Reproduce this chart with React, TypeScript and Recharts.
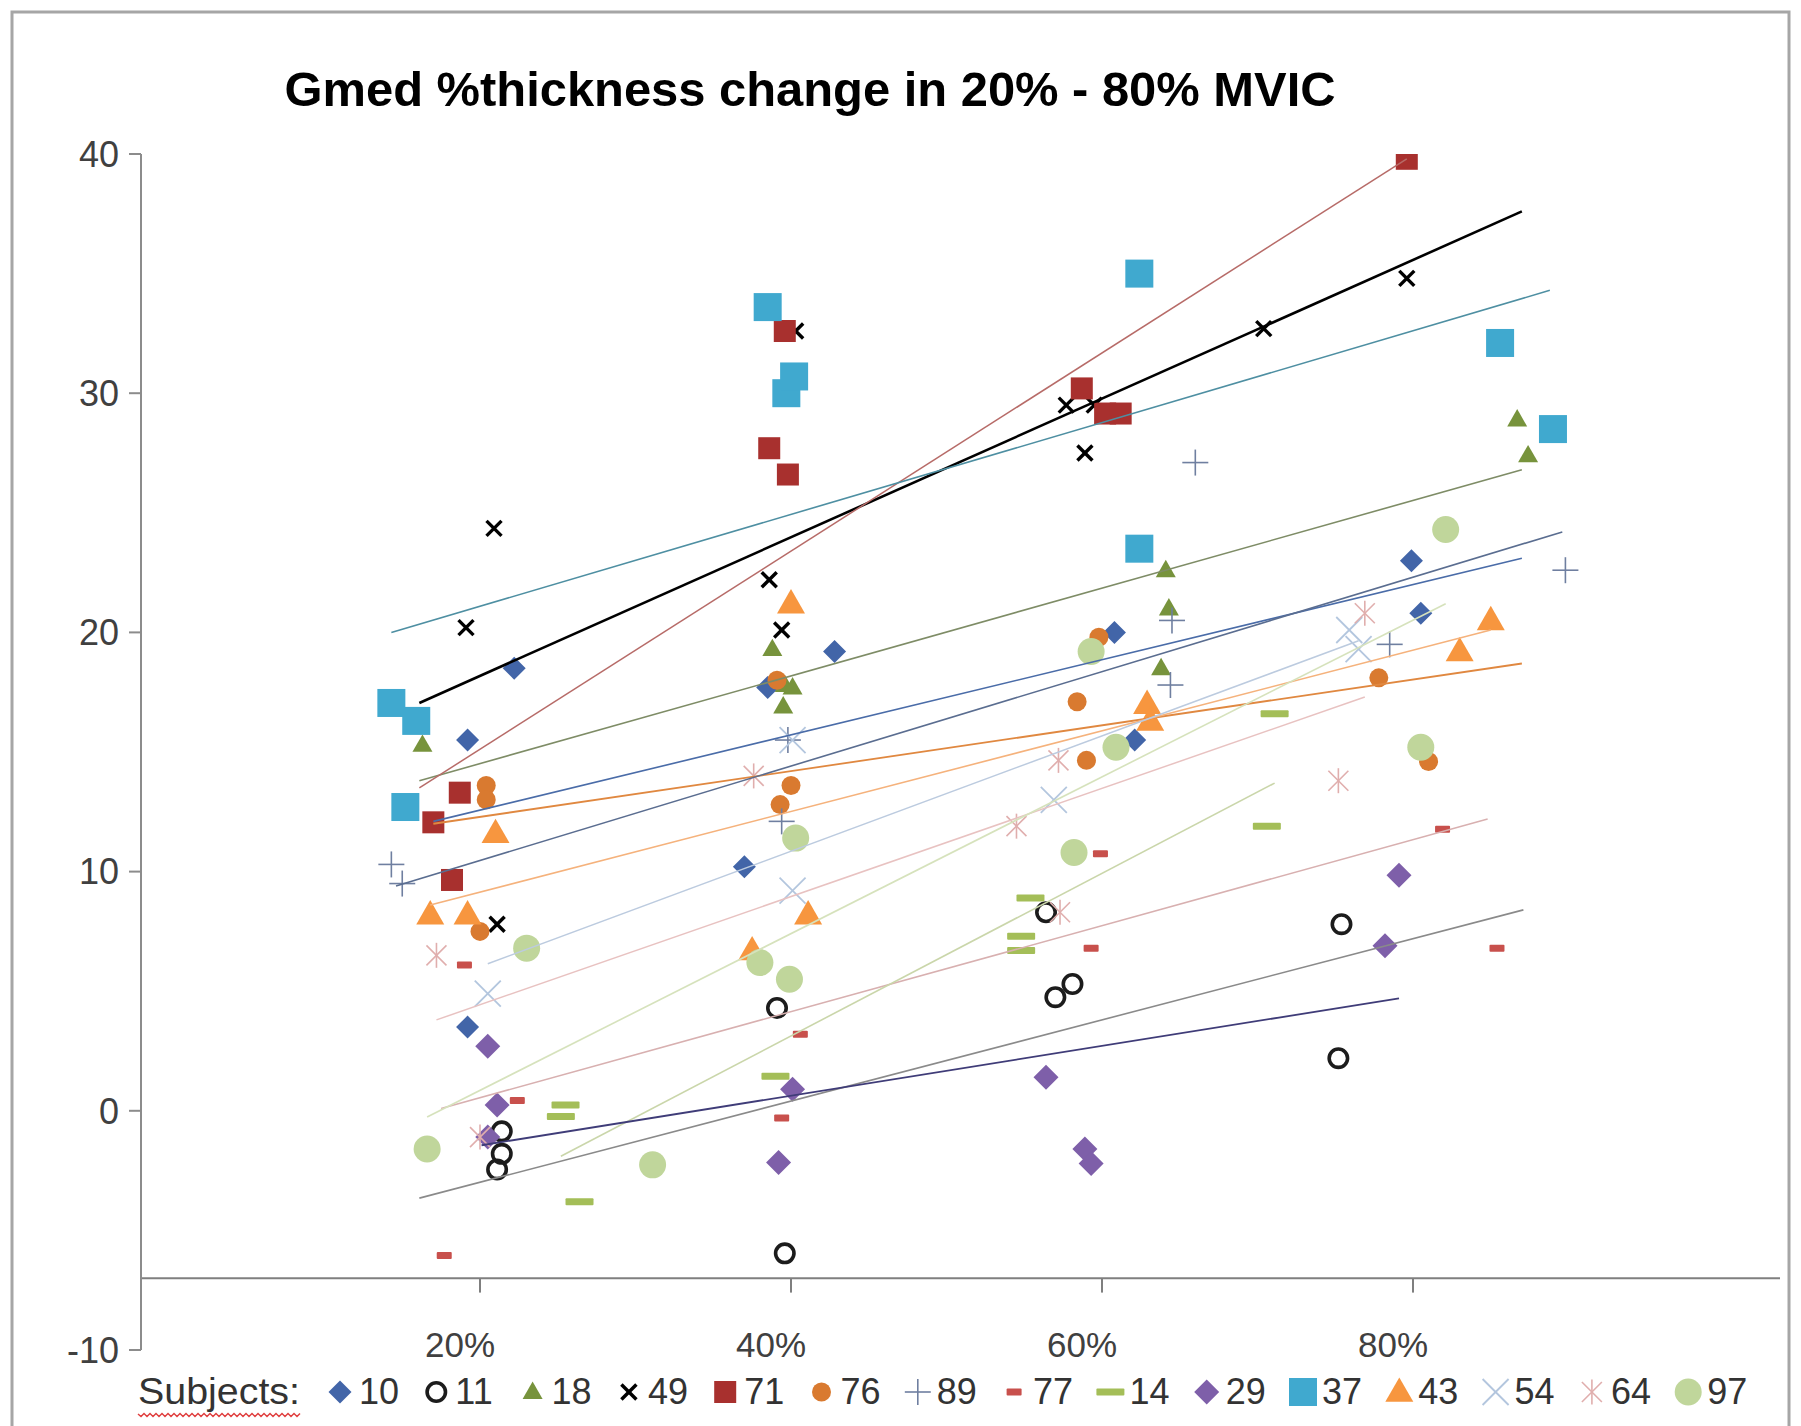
import { ComposedChart, ReferenceLine, Scatter, XAxis, YAxis } from "recharts";

type Pt = [number, number];

// subject ids, in legend order
const subjects = ["10", "11", "18", "49", "71", "76", "89", "77", "14", "29", "37", "43", "54", "64", "97"];

// measured points: [% MVIC, % thickness change]
const pts10: Pt[] = [[19.2, 15.5], [22.2, 18.5], [19.2, 3.5], [37.0, 10.2], [38.5, 17.7], [42.8, 19.2], [60.8, 20.0], [62.1, 15.5], [79.9, 23.0], [80.5, 20.8]];
const pts11: Pt[] = [[21.4, -0.86], [21.4, -1.8], [21.1, -2.45], [39.1, 4.3], [39.6, -5.96], [56.4, 8.3], [57.0, 4.75], [58.1, 5.3], [75.4, 7.8], [75.2, 2.2]];
const pts18: Pt[] = [[16.3, 15.3], [38.8, 19.3], [39.6, 17.8], [39.5, 16.9], [40.1, 17.7], [64.1, 22.6], [64.3, 21.0], [63.8, 18.5], [86.7, 28.9], [87.4, 27.4]];
const pts49: Pt[] = [[20.9, 24.35], [19.1, 20.2], [21.1, 7.8], [38.6, 22.2], [39.4, 20.1], [40.3, 32.6], [57.7, 29.5], [59.5, 29.5], [58.9, 27.5], [70.4, 32.7], [79.6, 34.8]];
const pts71: Pt[] = [[17.0, 12.06], [18.7, 13.3], [18.2, 9.65], [38.6, 27.7], [39.8, 26.6], [39.6, 32.6], [58.7, 30.2], [60.2, 29.15], [61.2, 29.15], [79.6, 39.8]];
const pts76: Pt[] = [[20.4, 13.6], [20.4, 13.0], [20.0, 7.5], [39.1, 18.0], [39.3, 12.8], [40.0, 13.6], [58.4, 17.1], [59.8, 19.8], [59.0, 14.65], [77.8, 18.1], [81.0, 14.6]];
const pts89: Pt[] = [[14.3, 10.3], [15.0, 9.5], [39.4, 12.1], [39.8, 15.5], [66.0, 27.1], [64.5, 20.5], [64.4, 17.8], [78.5, 19.5], [89.8, 22.6]];
const pts77: Pt[] = [[17.7, -6.05], [19.0, 6.1], [22.4, 0.43], [39.4, -0.3], [40.6, 3.2], [59.9, 10.75], [59.3, 6.8], [81.9, 11.77], [85.4, 6.8]];
const pts14: Pt[] = [[25.2, -0.24], [25.5, 0.24], [26.4, -3.8], [39.0, 1.44], [55.4, 8.9], [54.8, 7.3], [54.8, 6.7], [70.6, 11.9], [71.1, 16.6]];
const pts29: Pt[] = [[20.5, 2.7], [21.1, 0.24], [20.5, -1.1], [39.2, -2.16], [40.1, 0.9], [56.4, 1.4], [58.9, -1.6], [59.3, -2.2], [78.2, 6.9], [79.1, 9.85]];
const pts37: Pt[] = [[14.3, 17.05], [15.9, 16.3], [15.2, 12.7], [38.5, 33.6], [39.7, 30.0], [40.2, 30.7], [62.4, 35.0], [62.4, 23.5], [85.6, 32.1], [89.0, 28.5]];
const pts43: Pt[] = [[16.8, 8.2], [19.2, 8.2], [21.0, 11.6], [37.5, 6.7], [41.1, 8.2], [40.0, 21.2], [62.9, 17.0], [63.1, 16.3], [83.0, 19.2], [85.0, 20.5]];
const pts54: Pt[] = [[20.5, 4.9], [40.1, 9.2], [40.1, 15.5], [56.9, 13.0], [75.9, 20.1], [76.5, 19.3]];
const pts64: Pt[] = [[17.2, 6.5], [20.0, -1.1], [37.6, 14.0], [54.5, 11.9], [57.2, 14.65], [57.3, 8.3], [76.9, 20.8], [75.2, 13.8]];
const pts97: Pt[] = [[16.6, -1.6], [23.0, 6.8], [31.1, -2.26], [38.0, 6.2], [39.9, 5.5], [40.3, 11.4], [59.3, 19.2], [60.9, 15.2], [58.2, 10.8], [82.1, 24.3], [80.5, 15.2]];

// linear trendlines, start and end
const trend10: Pt[] = [[17.0, 12.1], [87.0, 23.1]];
const trend11: Pt[] = [[16.1, -3.65], [87.1, 8.4]];
const trend18: Pt[] = [[16.1, 13.8], [87.0, 26.8]];
const trend49: Pt[] = [[16.1, 17.05], [87.0, 37.6]];
const trend71: Pt[] = [[16.1, 13.5], [79.6, 39.8]];
const trend76: Pt[] = [[17.0, 12.0], [87.0, 18.7]];
const trend89: Pt[] = [[14.6, 9.4], [89.6, 24.2]];
const trend77: Pt[] = [[17.5, 0.1], [84.8, 12.2]];
const trend14: Pt[] = [[25.2, -1.9], [71.1, 13.7]];
const trend29: Pt[] = [[20.1, -1.44], [79.1, 4.7]];
const trend37: Pt[] = [[14.3, 20.0], [88.8, 34.3]];
const trend43: Pt[] = [[16.8, 8.6], [85.0, 20.1]];
const trend54: Pt[] = [[20.5, 6.15], [76.5, 19.65]];
const trend64: Pt[] = [[17.2, 3.8], [76.9, 17.3]];
const trend97: Pt[] = [[16.6, -0.26], [82.1, 21.2]];

const xTicks = [20, 40, 60, 80];
const xTickLabels = ["20%", "40%", "60%", "80%"];
const yTicks = [-10, 0, 10, 20, 30, 40];
const X_CROSS = -7;

const seriesPoints = [pts10, pts11, pts18, pts49, pts71, pts76, pts89, pts77, pts14, pts29, pts37, pts43, pts54, pts64, pts97];
const seriesTrends = [trend10, trend11, trend18, trend49, trend71, trend76, trend89, trend77, trend14, trend29, trend37, trend43, trend54, trend64, trend97];

type Kind = "diamond" | "ring" | "triangle" | "cross" | "square" | "dot" | "plus" | "dash" | "star";
type Style = { kind: Kind; size: number; h?: number; color: string; sw?: number; line: string; lw: number };

const styles: Style[] = [
  { kind: "diamond", size: 23, color: "#4265A8", line: "#4A6CA8", lw: 1.6 },
  { kind: "ring", size: 22, color: "#1C1C1C", sw: 3.6, line: "#8A8A8A", lw: 1.6 },
  { kind: "triangle", size: 20, color: "#77933C", line: "#7E8C66", lw: 1.6 },
  { kind: "cross", size: 15, color: "#000000", sw: 3.4, line: "#000000", lw: 2.6 },
  { kind: "square", size: 22, color: "#A8302E", line: "#B76B68", lw: 1.5 },
  { kind: "dot", size: 19, color: "#D97A30", line: "#E08840", lw: 1.8 },
  { kind: "plus", size: 26, color: "#6F7FA0", sw: 1.6, line: "#5A6D90", lw: 1.6 },
  { kind: "dash", size: 15, h: 7, color: "#C8504C", line: "#D8B0B0", lw: 1.5 },
  { kind: "dash", size: 28, h: 7, color: "#A4BE58", line: "#CAD6AA", lw: 1.6 },
  { kind: "diamond", size: 25, color: "#7E5FA9", line: "#3F3C78", lw: 1.8 },
  { kind: "square", size: 28, color: "#40A9CF", line: "#4E8FA2", lw: 1.6 },
  { kind: "triangle", size: 28, color: "#F7963F", line: "#F5B27C", lw: 1.6 },
  { kind: "cross", size: 26, color: "#B3C6DE", sw: 1.8, line: "#BCCBDF", lw: 1.5 },
  { kind: "star", size: 25, color: "#E0AEAD", sw: 1.6, line: "#E8C2C1", lw: 1.5 },
  { kind: "dot", size: 27, color: "#C0D69B", line: "#D6E2BC", lw: 1.6 },
];

const FONT = "'Liberation Sans', Arial, sans-serif";

function Marker({ s, cx, cy, scale = 1 }: { s: Style; cx: number; cy: number; scale?: number }) {
  const size = s.size * scale;
  const r = size / 2;
  const sw = (s.sw ?? 1.5) * Math.max(scale, 0.8);
  switch (s.kind) {
    case "diamond":
      return <polygon points={`${cx},${cy - r} ${cx + r},${cy} ${cx},${cy + r} ${cx - r},${cy}`} fill={s.color} />;
    case "ring":
      return <circle cx={cx} cy={cy} r={r - sw / 2} fill="none" stroke={s.color} strokeWidth={sw} />;
    case "triangle": {
      const h = size * 0.87;
      return <polygon points={`${cx},${cy - h * 0.6} ${cx + r},${cy + h * 0.4} ${cx - r},${cy + h * 0.4}`} fill={s.color} />;
    }
    case "cross":
      return (
        <g stroke={s.color} strokeWidth={sw}>
          <line x1={cx - r} y1={cy - r} x2={cx + r} y2={cy + r} />
          <line x1={cx - r} y1={cy + r} x2={cx + r} y2={cy - r} />
        </g>
      );
    case "square":
      return <rect x={cx - r} y={cy - r} width={size} height={size} fill={s.color} />;
    case "dot":
      return <circle cx={cx} cy={cy} r={r} fill={s.color} />;
    case "plus":
      return (
        <g stroke={s.color} strokeWidth={sw}>
          <line x1={cx - r} y1={cy} x2={cx + r} y2={cy} />
          <line x1={cx} y1={cy - r} x2={cx} y2={cy + r} />
        </g>
      );
    case "dash": {
      const h = (s.h ?? 6) * scale;
      return <rect x={cx - r} y={cy - h / 2} width={size} height={h} rx={1} fill={s.color} />;
    }
    case "star":
      return (
        <g stroke={s.color} strokeWidth={sw}>
          <line x1={cx - r * 0.8} y1={cy - r * 0.8} x2={cx + r * 0.8} y2={cy + r * 0.8} />
          <line x1={cx - r * 0.8} y1={cy + r * 0.8} x2={cx + r * 0.8} y2={cy - r * 0.8} />
          <line x1={cx} y1={cy - r} x2={cx} y2={cy + r} />
        </g>
      );
  }
  return null;
}

const toRows = (pts: Pt[]) => pts.map(([x, y]) => ({ x, y }));

function XTick(props: any) {
  const { x, payload } = props;
  const i = xTicks.indexOf(payload.value);
  return (
    <text x={x - 20} y={1357} textAnchor="middle" fontSize={35} fontFamily={FONT} fill="#404040">
      {xTickLabels[i]}
    </text>
  );
}

function squiggle(x0: number, x1: number, y: number) {
  let d = `M${x0},${y}`;
  for (let x = x0, k = 0; x < x1; x += 3, k++) d += ` L${x + 3},${y + (k % 2 === 0 ? 2.5 : -0.5)}`;
  return d;
}

export default function App() {
  return (
    <div style={{ position: "absolute", left: 0, top: 0, width: 1801, height: 1426, background: "#fff", overflow: "hidden" }}>
      <ComposedChart width={1801} height={1426} margin={{ top: 154, right: 21, bottom: 36, left: 61 }}>
        <XAxis
          type="number"
          dataKey="x"
          domain={[-1.8, 103.6]}
          ticks={xTicks}
          interval={0}
          allowDataOverflow
          axisLine={false}
          tickLine={false}
          height={40}
          tick={XTick}
        />
        <YAxis
          type="number"
          dataKey="y"
          domain={[-10, 40]}
          ticks={yTicks}
          interval={0}
          allowDataOverflow
          width={80}
          axisLine={{ stroke: "#8C8C8C", strokeWidth: 2 }}
          tickLine={{ stroke: "#8C8C8C", strokeWidth: 2 }}
          tickSize={12}
          tickMargin={10}
          tick={{ fill: "#404040", fontSize: 36, fontFamily: FONT }}
        />
        <ReferenceLine y={X_CROSS} stroke="#7F7F7F" strokeWidth={2} />
        {xTicks.map((t) => (
          <ReferenceLine
            key={`xt${t}`}
            segment={[{ x: t, y: X_CROSS }, { x: t, y: X_CROSS - 0.6 }]}
            stroke="#7F7F7F"
            strokeWidth={2}
          />
        ))}
        {seriesPoints.map((pts, i) => (
          <Scatter
            key={`p${subjects[i]}`}
            name={subjects[i]}
            data={toRows(pts)}
            fill={styles[i].color}
            isAnimationActive={false}
            shape={(p: any) => <Marker s={styles[i]} cx={p.cx} cy={p.cy} />}
          />
        ))}
        {seriesTrends.map((tr, i) => (
          <Scatter
            key={`t${subjects[i]}`}
            data={toRows(tr)}
            fill={styles[i].line}
            line={{ stroke: styles[i].line, strokeWidth: styles[i].lw }}
            isAnimationActive={false}
            shape={() => <g />}
          />
        ))}
      </ComposedChart>
      <svg
        width={1801}
        height={1426}
        style={{ position: "absolute", left: 0, top: 0, pointerEvents: "none" }}
      >
        <rect x={12} y={12} width={1777} height={1440} fill="none" stroke="#A6A6A6" strokeWidth={3} />
        <text
          x={810}
          y={106}
          textAnchor="middle"
          fontSize={48}
          fontWeight="bold"
          fontFamily={FONT}
          fill="#000"
          textLength={1051}
          lengthAdjust="spacingAndGlyphs"
        >
          Gmed %thickness change in 20% - 80% MVIC
        </text>
        <text x={138} y={1404} fontSize={36} fontFamily={FONT} fill="#333" textLength={162} lengthAdjust="spacingAndGlyphs">
          Subjects:
        </text>
        <path d={squiggle(138, 298, 1414)} fill="none" stroke="#E04040" strokeWidth={1.5} />
        {subjects.map((name, i) => {
          const cx = 340 + i * 96.3;
          return (
            <g key={`lg${name}`}>
              <Marker s={styles[i]} cx={cx} cy={1392} scale={1} />
              <text x={cx + 19} y={1404} fontSize={36} fontFamily={FONT} fill="#333">
                {name}
              </text>
            </g>
          );
        })}
      </svg>
    </div>
  );
}
